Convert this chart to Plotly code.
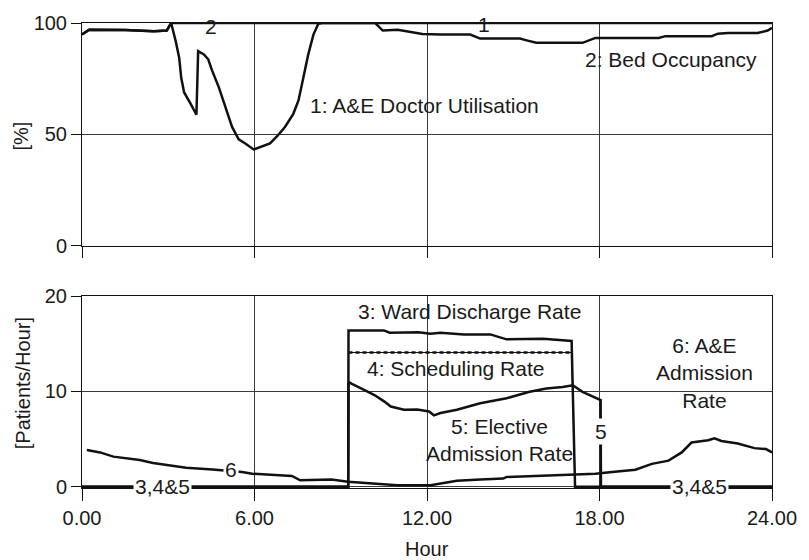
import plotly.graph_objects as go

# ---- Top panel: utilisation / occupancy [%] ----
hours_doctor = [0, 0.25, 1.5, 2.5, 2.95, 3.1, 3.26, 3.38, 3.45, 3.55, 3.78, 3.98, 4.04,
                4.24, 4.39, 4.53, 4.76, 4.99, 5.22, 5.45, 5.68, 5.97, 6.25, 6.54, 6.77,
                7.06, 7.35, 7.53, 7.7, 7.87, 8.05, 8.22, 8.35, 24]
doctor_util = [94.8, 97.0, 96.8, 96.3, 96.6, 100, 91.8, 84.4, 75.5, 68.9, 63.7, 58.8, 87.4,
               85.9, 83.7, 78.5, 71.1, 62.2, 53.3, 47.7, 45.9, 43.2, 44.4, 45.9, 48.9,
               53.3, 59.2, 65.2, 75.5, 85.9, 94.8, 99.7, 100, 100]

hours_bed = [0, 0.25, 1.5, 2.5, 2.95, 3.1, 10.2, 10.46, 10.98, 11.43, 11.84, 12.47, 13.5,
             13.85, 15.23, 15.5, 15.8, 17.41, 17.64, 17.86, 20.06, 20.29, 21.9, 22.12,
             22.47, 23.5, 23.85, 24]
bed_occupancy = [94.8, 97.0, 96.8, 96.3, 96.6, 100, 100, 96.6, 97.0, 96.0, 95.1, 94.8, 94.8,
                 93.0, 93.0, 92.1, 91.1, 91.1, 92.1, 93.3, 93.3, 94.1, 94.1, 95.2,
                 95.5, 95.5, 96.6, 97.8]

# ---- Bottom panel: patient flows [patients/hour] ----
hours_discharge = [0, 9.26, 9.27, 10.5, 10.7, 11.7, 12.12, 12.47, 13.28, 14.2, 14.77,
                   16.03, 17.03, 17.15, 24]
ward_discharge = [0, 0, 16.4, 16.4, 16.15, 16.2, 16.05, 16.15, 15.98, 15.98, 15.46,
                  15.53, 15.29, 0, 0]

hours_schedule = [0, 9.26, 9.27, 17.03, 17.15, 24]
scheduling = [0, 0, 14.08, 14.08, 0, 0]

hours_elective = [0, 9.26, 9.27, 9.37, 9.83, 10.17, 10.52, 10.74, 11.2, 11.66, 12.07,
                  12.24, 12.47, 13.04, 13.85, 14.77, 15.57, 16.15, 16.72, 17.07, 17.41,
                  18.04, 18.05, 24]
elective = [0, 0, 11.0, 10.82, 10.13, 9.62, 8.93, 8.41, 8.07, 8.1, 7.9,
            7.49, 7.73, 8.07, 8.76, 9.28, 9.96, 10.31, 10.47, 10.65, 9.96,
            9.1, 0, 0]

hours_ae = [0.17, 0.63, 1.09, 1.55, 2.01, 2.47, 3.16, 3.62, 4.54, 5.57, 5.92, 6.38, 7.3,
            7.59, 8.68, 9.25, 10.4, 10.98, 12.12, 13.04, 13.85, 14.65, 14.77, 15.57,
            16.95, 17.86, 18.44, 19.25, 19.82, 20.4, 20.86, 21.2, 21.78, 22.0, 22.24,
            22.81, 23.39, 23.79, 24.0]
ae_admission = [3.85, 3.6, 3.16, 2.99, 2.81, 2.5, 2.23, 1.99, 1.81, 1.55, 1.37, 1.3, 1.13,
                0.68, 0.75, 0.52, 0.27, 0.17, 0.17, 0.62, 0.75, 0.86, 1.03, 1.1,
                1.3, 1.37, 1.55, 1.78, 2.4, 2.74, 3.6, 4.64, 4.88, 5.08, 4.8,
                4.54, 4.05, 3.95, 3.6]

x_ticks = [0, 6, 12, 18, 24]
x_tick_labels = ["0.00", "6.00", "12.00", "18.00", "24.00"]
pct_ticks = [0, 50, 100]
rate_ticks = [0, 10, 20]

FONT = "Liberation Sans, Arial, sans-serif"
INK = "#1a1a1a"
LINE = dict(color="#111111", width=2.5)

fig = go.Figure()

# top panel traces
fig.add_trace(go.Scatter(x=hours_bed, y=bed_occupancy, mode="lines", line=LINE,
                         xaxis="x", yaxis="y", name="Bed Occupancy"))
fig.add_trace(go.Scatter(x=hours_doctor, y=doctor_util, mode="lines", line=LINE,
                         xaxis="x", yaxis="y", name="A&E Doctor Utilisation"))

# bottom panel traces
fig.add_trace(go.Scatter(x=hours_ae, y=ae_admission, mode="lines", line=LINE,
                         xaxis="x2", yaxis="y2", name="A&E Admission Rate"))
fig.add_trace(go.Scatter(x=hours_schedule, y=scheduling, mode="lines",
                         line=dict(color="#111111", width=1),
                         xaxis="x2", yaxis="y2", name="Scheduling Rate"))
# dashed overlay on the plateau of the scheduling rate
fig.add_trace(go.Scatter(x=hours_schedule[2:4], y=scheduling[2:4], mode="lines",
                         line=dict(color="#111111", width=2.5, dash="4px,3px"),
                         xaxis="x2", yaxis="y2", showlegend=False))
fig.add_trace(go.Scatter(x=hours_elective, y=elective, mode="lines", line=LINE,
                         xaxis="x2", yaxis="y2", name="Elective Admission Rate"))
fig.add_trace(go.Scatter(x=hours_discharge, y=ward_discharge, mode="lines", line=LINE,
                         xaxis="x2", yaxis="y2", name="Ward Discharge Rate"))

axis_common = dict(
    showline=True, mirror=True, linecolor="#111111", linewidth=1,
    showgrid=True, gridcolor="#3a3a3a", gridwidth=1,
    zeroline=False, ticks="outside", tickcolor="#111111", tickwidth=1,
    tickfont=dict(family=FONT, size=20, color=INK),
)

fig.update_layout(
    width=809, height=560,
    margin=dict(l=82, r=31, t=18, b=72),
    paper_bgcolor="white", plot_bgcolor="white",
    showlegend=False,
    font=dict(family=FONT, size=20, color=INK),
    xaxis=dict(axis_common, domain=[0, 1], anchor="y", range=[0, 24],
               tickvals=x_ticks, showticklabels=False, ticklen=11),
    yaxis=dict(axis_common, domain=[0.5213, 1], anchor="x", range=[0, 100],
               tickvals=pct_ticks, ticklen=10),
    xaxis2=dict(axis_common, domain=[0, 1], anchor="y2", range=[0, 24],
                tickvals=x_ticks, ticktext=x_tick_labels, ticklen=12),
    yaxis2=dict(axis_common, domain=[0, 0.4128], anchor="x2", range=[-0.13, 20],
                tickvals=rate_ticks, ticklen=10),
)

def label(text, x, y, ax="x", ay="y", bg=None, size=21):
    fig.add_annotation(text=text, x=x, y=y, xref=ax, yref=ay, showarrow=False,
                       font=dict(family=FONT, size=size, color=INK),
                       bgcolor=bg, borderpad=1, xanchor="center", yanchor="middle")

# series labels, top panel
label("1: A&E Doctor Utilisation", 11.9, 62.9)
label("2: Bed Occupancy", 20.48, 83.7)
label("2", 4.48, 98.5)
label("1", 13.99, 99.3)

# series labels, bottom panel
label("3: Ward Discharge Rate", 13.49, 18.38, "x2", "y2")
label("4: Scheduling Rate", 13.0, 12.43, "x2", "y2")
label("5: Elective<br>Admission Rate", 14.53, 4.93, "x2", "y2")
label("6: A&E<br>Admission<br>Rate", 21.65, 11.96, "x2", "y2")
label("6", 5.19, 1.82, "x2", "y2", bg="white")
label("3,4&5", 2.81, 0, "x2", "y2", bg="white")
label("3,4&5", 21.49, 0, "x2", "y2", bg="white")
label("5", 18.04, 5.84, "x2", "y2", bg="white")

# axis titles
def title(text, x, y, angle=0):
    fig.add_annotation(text=text, x=x, y=y, xref="paper", yref="paper",
                       showarrow=False, textangle=angle,
                       xanchor="center", yanchor="middle",
                       font=dict(family=FONT, size=20, color=INK))

title("[%]", -0.089, 0.757, -90)
title("[Patients/Hour]", -0.086, 0.2245, -90)
title("Hour", 0.4999, -0.132)

fig.write_html("out.html")
